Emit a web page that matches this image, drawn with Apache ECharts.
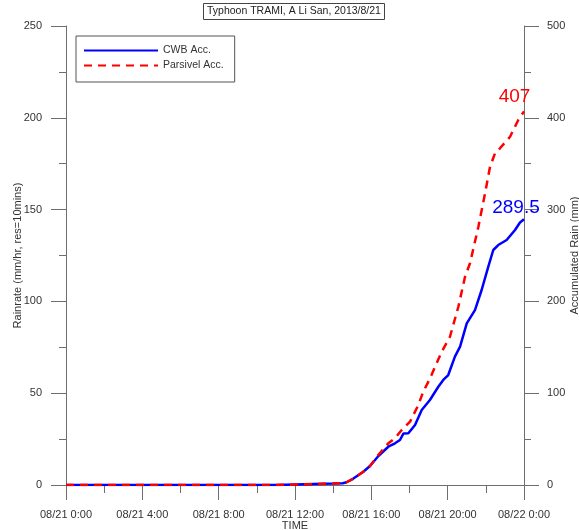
<!DOCTYPE html>
<html>
<head>
<meta charset="utf-8">
<script src="https://cdn.jsdelivr.net/npm/echarts@6/dist/echarts.min.js"></script>
<style>
  html, body { margin: 0; padding: 0; background: #fff; }
  #chart { width: 579px; height: 530px; }
</style>
</head>
<body>
<div id="chart"></div>
<script>
// Accumulated rain, Typhoon TRAMI at A Li San, 2013/8/21 (hours since 08/21 0:00)
const cwbHours = [0, 11, 12, 13, 14, 14.5, 14.7, 15.06, 15.58, 15.93, 16.37, 16.89, 17.24, 17.5, 17.68, 17.94,
  18.29, 18.64, 19.07, 19.51, 19.77, 20.03, 20.38, 20.65, 21.0, 21.43, 21.78, 22.13, 22.39, 22.65, 23.09, 23.53, 23.79, 24];
const cwbAcc = [0, 0, 0.5, 1, 1.5, 2, 3, 7, 14.5, 20.7, 31.6, 41.7, 45.4, 49, 56, 56.3,
  65.4, 81.7, 92.6, 107, 114.4, 119.8, 139.8, 150.7, 176, 190.6, 212.4, 237.8, 256, 261.4, 266.9, 277.8, 286, 289.5];

const parsivelHours = [0, 11, 12, 13, 14, 14.5, 14.7, 15.06, 15.58, 15.93, 16.37, 16.89, 17.24, 17.59, 18.03,
  18.46, 18.72, 19.07, 19.69, 20.12, 20.56, 20.91, 21.17, 21.61, 21.96, 22.22, 22.48, 22.74, 23.27, 23.7, 24];
const parsivelAcc = [0, 0, 0.5, 1, 1.5, 2, 3, 7, 14.5, 20.7, 33, 45.4, 50.9, 59.9, 69,
  87, 101.6, 116, 145.2, 161.5, 194.2, 226.9, 241.5, 281.4, 317.8, 346.7, 361.3, 366.8, 379.4, 397.6, 407];

const timeTicks = [0, 4, 8, 12, 16, 20, 24];
const timeLabels = ['08/21 0:00', '08/21 4:00', '08/21 8:00', '08/21 12:00', '08/21 16:00', '08/21 20:00', '08/22 0:00'];

const FONT = '"Liberation Sans", Arial, sans-serif';
const AXIS_COLOR = '#6e6e6e';
const TEXT_COLOR = '#333';
const BLUE = '#0000ff';
const RED = '#ff0000';

function pairs(hours, values) {
  return hours.map((h, i) => [h, values[i]]);
}

// Invisible marker at the last point that carries the total as text
function totalLabel(hours, values, color, offset) {
  const i = hours.length - 1;
  return {
    type: 'scatter', yAxisIndex: 1, silent: true,
    symbolSize: 1, itemStyle: { color: 'rgba(0,0,0,0)', opacity: 1 },
    label: {
      show: true, position: 'top', distance: 0, offset: offset,
      formatter: String(values[i]), color: color, opacity: 1,
      fontSize: 19, fontFamily: FONT
    },
    data: [[hours[i], values[i]]],
    z: 5
  };
}

function axisBase() {
  return {
    nameMoveOverlap: false,
    axisLine: { show: true, onZero: false, lineStyle: { color: AXIS_COLOR, width: 1 } },
    axisTick: { show: true, inside: false, length: 15, lineStyle: { color: AXIS_COLOR } },
    minorTick: { show: true, splitNumber: 2, length: 8, lineStyle: { color: AXIS_COLOR } },
    splitLine: { show: false },
    axisLabel: { color: TEXT_COLOR, fontSize: 11, fontFamily: FONT },
    nameTextStyle: { color: TEXT_COLOR, fontSize: 11, fontFamily: FONT }
  };
}

const chart = echarts.init(document.getElementById('chart'), null, { renderer: 'canvas' });

const xAxis = Object.assign(axisBase(), {
  type: 'value', min: 0, max: 24, interval: 4,
  name: 'TIME', nameLocation: 'middle', nameGap: 35
});
xAxis.axisLabel = Object.assign({}, xAxis.axisLabel, {
  margin: 24,
  formatter: v => timeLabels[timeTicks.indexOf(v)] || ''
});

const yLeft = Object.assign(axisBase(), {
  type: 'value', position: 'left', min: 0, max: 250, interval: 50,
  name: 'Rainrate (mm/hr, res=10mins)', nameLocation: 'middle', nameGap: 43
});
yLeft.axisLabel = Object.assign({}, yLeft.axisLabel, { margin: 24 });
yLeft.minorTick.length = 7;

const yRight = Object.assign(axisBase(), {
  type: 'value', position: 'right', min: 0, max: 500, interval: 100,
  name: 'Accumulated Rain (mm)', nameLocation: 'middle', nameGap: 45
});
yRight.axisLabel = Object.assign({}, yRight.axisLabel, { margin: 23 });
yRight.minorTick.length = 7;

chart.setOption({
  animation: false,
  backgroundColor: '#fff',
  title: {
    text: 'Typhoon TRAMI, A Li San, 2013/8/21',
    left: 203, top: 3,
    padding: [3, 4, 3, 4],
    borderColor: '#444', borderWidth: 1,
    textStyle: { color: '#222', fontSize: 10.5, fontWeight: 'normal', fontFamily: FONT }
  },
  legend: {
    orient: 'vertical', left: 76, top: 36,
    padding: [9, 11, 11, 7],
    borderColor: '#555', borderWidth: 1,
    itemWidth: 74, itemHeight: 10, itemGap: 4,
    itemStyle: { opacity: 0 },
    textStyle: { color: TEXT_COLOR, fontSize: 10.5, fontFamily: FONT },
    data: ['CWB Acc.', 'Parsivel Acc.']
  },
  grid: { left: 66, right: 55, top: 26, bottom: 45, containLabel: false, outerBoundsMode: 'none' },
  xAxis: xAxis,
  yAxis: [yLeft, yRight],
  series: [
    {
      name: 'CWB Acc.', type: 'line', yAxisIndex: 1,
      symbol: 'none', smooth: false,
      lineStyle: { color: BLUE, width: 2.5 },
      itemStyle: { color: BLUE },
      data: pairs(cwbHours, cwbAcc),
      z: 2
    },
    {
      name: 'Parsivel Acc.', type: 'line', yAxisIndex: 1,
      symbol: 'none', smooth: false,
      lineStyle: { color: RED, width: 2.5, type: [8, 6] },
      itemStyle: { color: RED },
      data: pairs(parsivelHours, parsivelAcc),
      z: 3
    },
    totalLabel(cwbHours, cwbAcc, BLUE, [-8, -1]),
    totalLabel(parsivelHours, parsivelAcc, RED, [-9.5, -5])
  ]
});
</script>
</body>
</html>
